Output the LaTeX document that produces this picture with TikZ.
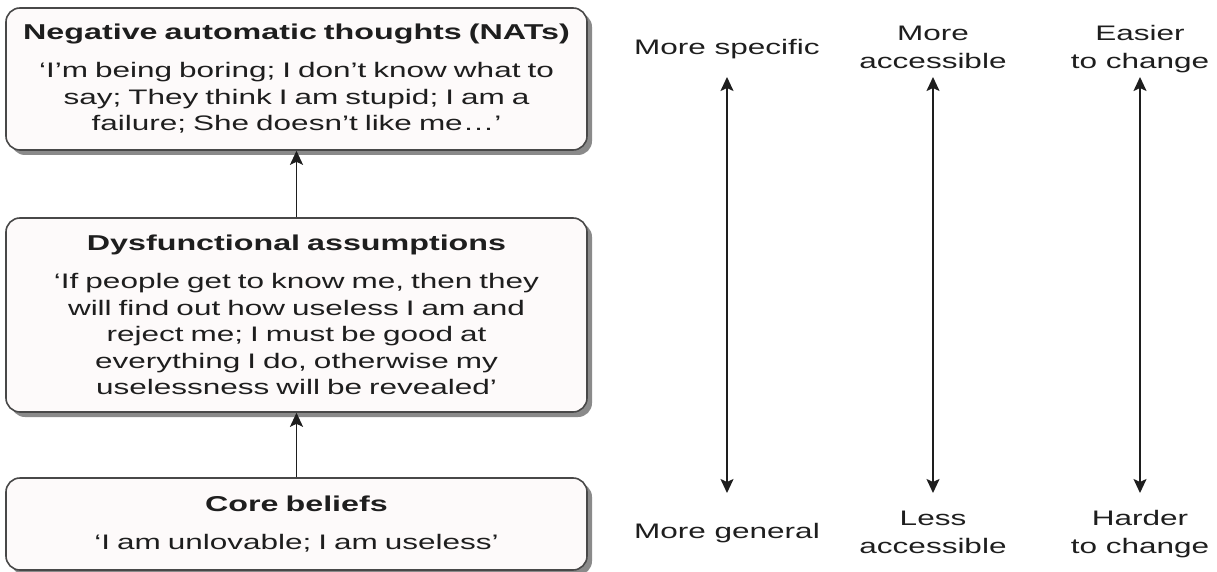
\documentclass[tikz,border=0pt]{standalone}
\usepackage{fontspec}
\setmainfont{Liberation Sans}[FakeStretch=1.5]
\usetikzlibrary{arrows.meta,shadows}

\definecolor{boxfill}{HTML}{FDFAFA}
\definecolor{boxline}{HTML}{484848}
\definecolor{shadowgray}{HTML}{8A8A8A}
\definecolor{inkgray}{HTML}{1E1E1E}

\newcommand{\levelhead}[1]{{\bfseries\fontsize{21.5}{26.5}\selectfont #1}\\[11.5pt]}

\begin{document}
\begin{tikzpicture}[
        x=1pt, y=-1pt,
        font=\fontsize{21}{26.5}\selectfont,
        text=inkgray,
        level/.style={
            rectangle, rounded corners=14pt,
            draw=boxline, line width=1.6pt, fill=boxfill,
            text width=575pt, inner xsep=3pt, inner ysep=0pt,
            align=center,
            drop shadow={shadow xshift=5pt, shadow yshift=-5pt,
                fill=shadowgray, opacity=1}
        },
        arrow/.style={->, >={Stealth[length=14pt,width=13pt,inset=3pt]},
            line width=1.8pt, draw=inkgray},
        dblarrow/.style={arrow, <->},
        side/.style={anchor=base, align=center,
            font=\fontsize{21}{28}\selectfont}
    ]

        \path[use as bounding box, fill=white] (0,0) rectangle (1217,572);

        % Niveles
        \node[level, minimum height=142pt] (nats) at (296.5,79) {
            \levelhead{Negative automatic thoughts (NATs)}
            ‘I’m being boring; I don’t know what to\\
            say; They think I am stupid; I am a\\
            failure; She doesn’t like me…’
        };

        \node[level, minimum height=194pt] (assump) at (296.5,315) {
            \levelhead{Dysfunctional assumptions}
            ‘If people get to know me, then they\\
            will find out how useless I am and\\
            reject me; I must be good at\\
            everything I do, otherwise my\\
            uselessness will be revealed’
        };

        \node[level, minimum height=92pt] (core) at (296.5,524) {
            \levelhead{Core beliefs}
            ‘I am unlovable; I am useless’
        };

        \draw[arrow] (core.north) -- (assump.south);
        \draw[arrow] (assump.north) -- (nats.south);

        % Escalas (base = last line)
        \node[side] (specific) at (727,55) {More specific};
        \node[side] (general) at (727,538.5) {More general};
        \node[side] (moreacc) at (933,68.5) {More\\accessible};
        \node[side] (lessacc) at (933,553) {Less\\accessible};
        \node[side] (easier) at (1140,68.5) {Easier\\to change};
        \node[side] (harder) at (1140,553) {Harder\\to change};

        \coordinate (upper) at (0,77);
        \coordinate (lower) at (0,493);

        \draw[dblarrow] (specific |- upper) -- (general |- lower);
        \draw[dblarrow] (moreacc |- upper) -- (lessacc |- lower);
        \draw[dblarrow] (easier |- upper) -- (harder |- lower);

    \end{tikzpicture}
\end{document}
